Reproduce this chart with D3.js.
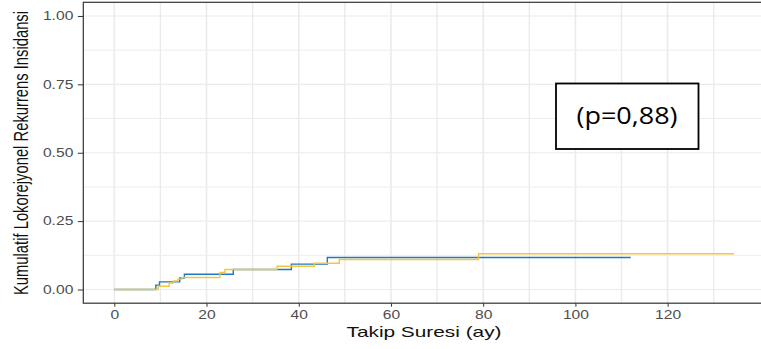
<!DOCTYPE html>
<html>
<head>
<meta charset="utf-8">
<script src="https://cdn.jsdelivr.net/npm/d3@7"></script>
<style>
  html, body { margin: 0; padding: 0; background: #fff; }
  svg { display: block; }
  text { font-family: "Liberation Sans", Arial, sans-serif; }
</style>
</head>
<body>
<svg id="chart" width="761" height="349"></svg>
<script>
// ---- data ----
const blueTimes  = [0, 9.0, 9.8, 14.2, 15.2, 25.8, 38.4, 46.2, 112];
const blueValues = [0, 0.016, 0.028, 0.042, 0.056, 0.073, 0.093, 0.117, 0.117];
const yellowTimes  = [0, 9.5, 11.9, 12.8, 13.8, 14.6, 22.9, 24.0, 35.3, 43.4, 48.8, 79.0, 134.4];
const yellowValues = [0, 0.012, 0.024, 0.031, 0.038, 0.044, 0.062, 0.073, 0.085, 0.096, 0.110, 0.131, 0.131];
const xTicks = [0, 20, 40, 60, 80, 100, 120];
const xMinor = [10, 30, 50, 70, 90, 110, 130];
const yTicks = [0, 0.25, 0.5, 0.75, 1];
const yMinor = [0.125, 0.375, 0.625, 0.875];
const xTitle = "Takip Suresi (ay)";
const yTitle = "Kumulatif Lokorejyonel Rekurrens Insidansi";
const pLabel = "(p=0,88)";

const svg = d3.select("#chart");
const STRETCH = 1.3;

const x = d3.scaleLinear().domain([-6.72, 141.12]).range([83.3, 765]);
const y = d3.scaleLinear().domain([-0.05, 1.05]).range([303.2, 2.3]);
const x0 = 83.3, x1 = 765, y0 = 2.3, y1 = 303.2;

// grid
const grid = svg.append("g");
grid.selectAll(".vmin").data(xMinor).join("line")
  .attr("x1", d => x(d)).attr("x2", d => x(d)).attr("y1", y0).attr("y2", y1)
  .attr("stroke", "#ebebeb").attr("stroke-width", 1.4);
grid.selectAll(".vmaj").data(xTicks).join("line")
  .attr("x1", d => x(d)).attr("x2", d => x(d)).attr("y1", y0).attr("y2", y1)
  .attr("stroke", "#ebebeb").attr("stroke-width", 1.6);
grid.selectAll(".hmin").data(yMinor).join("line")
  .attr("x1", x0).attr("x2", x1).attr("y1", d => y(d)).attr("y2", d => y(d))
  .attr("stroke", "#ededed").attr("stroke-width", 1);
grid.selectAll(".hmaj").data(yTicks).join("line")
  .attr("x1", x0).attr("x2", x1).attr("y1", d => y(d)).attr("y2", d => y(d))
  .attr("stroke", "#ebebeb").attr("stroke-width", 1.2);

// step curves
const line = d3.line().x(d => x(d[0])).y(d => y(d[1])).curve(d3.curveStepAfter);
const blue = blueTimes.map((t, i) => [t, blueValues[i]]);
const yellow = yellowTimes.map((t, i) => [t, yellowValues[i]]);
svg.append("path").datum(blue).attr("d", line)
  .attr("fill", "none").attr("stroke", "#1f78c1").attr("stroke-width", 1.4);
svg.append("path").datum(yellow).attr("d", line)
  .attr("fill", "none").attr("stroke", "#f5c53a").attr("stroke-width", 1.4);

// panel border
svg.append("rect").attr("x", x0).attr("y", y0).attr("width", x1 - x0).attr("height", y1 - y0)
  .attr("fill", "none").attr("stroke", "#333").attr("stroke-width", 1.2);

// axes
const xAxis = svg.append("g").attr("transform", `translate(0,${y1})`)
  .call(d3.axisBottom(x).tickValues(xTicks).tickSize(3.5).tickPadding(4).tickFormat(d3.format("d")));
xAxis.select(".domain").remove();
xAxis.selectAll("line").attr("stroke", "#333");
xAxis.selectAll("text").attr("fill", "#4d4d4d").style("font-size", "12px");

const yAxis = svg.append("g").attr("transform", `translate(${x0},0)`)
  .call(d3.axisLeft(y).tickValues(yTicks).tickSize(5.5).tickPadding(4.5).tickFormat(d3.format(".2f")));
yAxis.select(".domain").remove();
yAxis.selectAll("line").attr("stroke", "#333");
yAxis.selectAll("text").attr("fill", "#4d4d4d").style("font-size", "12px");

// horizontally stretched look of the reference
svg.selectAll(".tick text").each(function() {
  const len = this.getComputedTextLength();
  d3.select(this).attr("textLength", len * STRETCH).attr("lengthAdjust", "spacingAndGlyphs");
});

// titles
svg.append("text").attr("x", 424).attr("y", 336.5).attr("text-anchor", "middle")
  .style("font-size", "15px").attr("fill", "#111")
  .attr("textLength", 155).attr("lengthAdjust", "spacingAndGlyphs").text(xTitle);

svg.append("text")
  .attr("transform", `translate(28,153) scale(${STRETCH},1) rotate(-90)`)
  .attr("text-anchor", "middle").style("font-size", "15px").attr("fill", "#111")
  .attr("textLength", 284).attr("lengthAdjust", "spacingAndGlyphs").text(yTitle);

// p-value box
svg.append("rect").attr("x", 556).attr("y", 83.5).attr("width", 142.5).attr("height", 65.5)
  .attr("fill", "#fff").attr("stroke", "#000").attr("stroke-width", 1.8);
svg.append("text").attr("x", 627).attr("y", 124).attr("text-anchor", "middle")
  .style("font-family", "'Open Sans', sans-serif").style("font-size", "24px").attr("fill", "#000")
  .attr("textLength", 101).attr("lengthAdjust", "spacingAndGlyphs").text(pLabel);
</script>
</body>
</html>
